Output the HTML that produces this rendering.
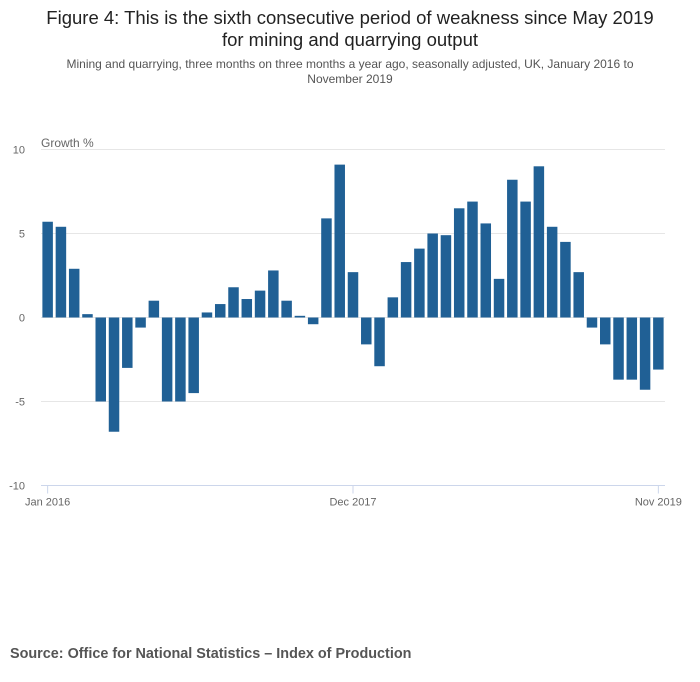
<!DOCTYPE html>
<html><head><meta charset="utf-8"><style>
body{margin:0;background:#fff;font-family:"Liberation Sans",sans-serif;}
#wrap{position:relative;width:700px;height:682px;}
</style></head><body>
<div id="wrap">
<div style="position:absolute;left:0;top:7px;width:700px;text-align:center;font-size:18.5px;color:#222;line-height:22px;">Figure 4: This is the sixth consecutive period of weakness since May 2019<br>for mining and quarrying output</div>
<div style="position:absolute;left:0;top:57px;width:700px;text-align:center;font-size:12px;color:#555;line-height:15px;">Mining and quarrying, three months on three months a year ago, seasonally adjusted, UK, January 2016 to<br>November 2019</div>
<div style="position:absolute;left:10px;top:646px;font-size:14.4px;font-weight:bold;color:#555;">Source: Office for National Statistics – Index of Production</div>
<svg id="chart" width="700" height="682" style="position:absolute;left:0;top:0"></svg>
</div>
<script>
const categories=["Jan 2016","Feb 2016","Mar 2016","Apr 2016","May 2016","Jun 2016","Jul 2016","Aug 2016","Sep 2016","Oct 2016","Nov 2016","Dec 2016","Jan 2017","Feb 2017","Mar 2017","Apr 2017","May 2017","Jun 2017","Jul 2017","Aug 2017","Sep 2017","Oct 2017","Nov 2017","Dec 2017","Jan 2018","Feb 2018","Mar 2018","Apr 2018","May 2018","Jun 2018","Jul 2018","Aug 2018","Sep 2018","Oct 2018","Nov 2018","Dec 2018","Jan 2019","Feb 2019","Mar 2019","Apr 2019","May 2019","Jun 2019","Jul 2019","Aug 2019","Sep 2019","Oct 2019","Nov 2019"];
const growth=[5.7,5.4,2.9,0.2,-5.0,-6.8,-3.0,-0.6,1.0,-5.0,-5.0,-4.5,0.3,0.8,1.8,1.1,1.6,2.8,1.0,0.1,-0.4,5.9,9.1,2.7,-1.6,-2.9,1.2,3.3,4.1,5.0,4.9,6.5,6.9,5.6,2.3,8.2,6.9,9.0,5.4,4.5,2.7,-0.6,-1.6,-3.7,-3.7,-4.3,-3.1];
const yTicks=[10,5,0,-5,-10];
const xTickLabels=["Jan 2016","Dec 2017","Nov 2019"];
const svg=document.getElementById('chart');
const NS='http://www.w3.org/2000/svg';
const left=41,right=665,yTop=149.5,yBot=485.5;
const y=v=>yTop+(10-v)/20*(yBot-yTop);
const step=(right-left)/categories.length;
const x=i=>left+step*(i+0.5);
const bw=10.5;
function mk(t,a){const e=document.createElementNS(NS,t);for(const k in a)e.setAttribute(k,a[k]);svg.appendChild(e);return e;}
yTicks.forEach(v=>{
 const l=mk('line',{x1:left,x2:right,y1:y(v),y2:y(v),stroke:v===-10?'#ccd6eb':'#e6e6e6','stroke-width':1});
 
 
 const t=mk('text',{x:25,y:y(v)+4,'text-anchor':'end','font-size':11,fill:'#666','font-family':'Liberation Sans, sans-serif'});
 t.textContent=v;
 
 
});
const yt=mk('text',{x:41,y:147,'font-size':12,fill:'#666','font-family':'Liberation Sans, sans-serif'});
yt.textContent='Growth %';


growth.forEach((v,i)=>{
 const r=mk('rect',{x:x(i)-bw/2,y:Math.min(y(v),y(0)),width:bw,height:Math.abs(y(v)-y(0)),fill:'#206095'});
 
 
});
xTickLabels.forEach(lab=>{
 const i=categories.indexOf(lab);
 const tk=mk('line',{x1:x(i),x2:x(i),y1:yBot,y2:yBot+8,stroke:'#ccd6eb'});
 
 
 const t=mk('text',{x:x(i),y:yBot+20,'text-anchor':'middle','font-size':11,fill:'#666','font-family':'Liberation Sans, sans-serif'});
 t.textContent=lab;
 
 
});
</script>
</body></html>
